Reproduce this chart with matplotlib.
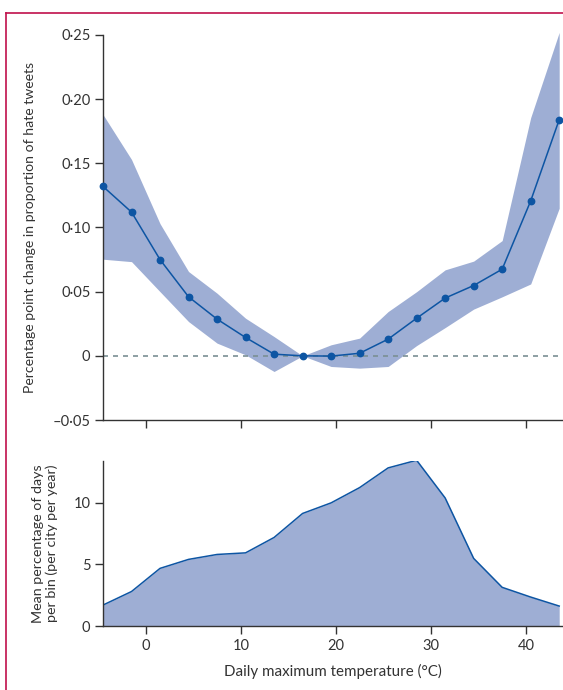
import numpy as np
import matplotlib
matplotlib.use("Agg")
import matplotlib.pyplot as plt
from matplotlib.lines import Line2D

plt.rcParams['font.family'] = ['Lato', 'DejaVu Sans']

# temperature bin centres (°C)
temp = [-4.5, -1.5, 1.5, 4.5, 7.5, 10.5, 13.5, 16.5, 19.5, 22.5,
        25.5, 28.5, 31.5, 34.5, 37.5, 40.5, 43.5]

# percentage point change in proportion of hate tweets
est = [0.132, 0.112, 0.075, 0.046, 0.0286, 0.0143, 0.0013, 0.0, -0.0002, 0.002,
       0.013, 0.0293, 0.045, 0.0548, 0.0675, 0.1207, 0.184]
upper = [0.188, 0.153, 0.103, 0.0657, 0.0488, 0.0293, 0.015, 0.0, 0.0086, 0.0138,
         0.0345, 0.050, 0.067, 0.0738, 0.0898, 0.1856, 0.252]
lower = [0.0753, 0.0734, 0.050, 0.0267, 0.0099, 0.0008, -0.0122, 0.0, -0.0083, -0.0096,
         -0.0083, 0.008, 0.022, 0.0364, 0.046, 0.056, 0.115]

# mean percentage of days per bin
days = [1.70, 2.80, 4.68, 5.41, 5.81, 5.94, 7.19, 9.14, 10.0, 11.24,
        12.84, 13.46, 10.4, 5.49, 3.14, 2.35, 1.62]

yticks_top = [-0.05, 0, 0.05, 0.10, 0.15, 0.20, 0.25]
ytick_labels_top = ['\u20130\u00b705', '0', '0\u00b705', '0\u00b710', '0\u00b715', '0\u00b720', '0\u00b725']
xticks = [0, 10, 20, 30, 40]

line_c = '#0d55a3'
fill_c = '#9eaed4'
text_c = '#333333'

W, H = 563, 690
fig = plt.figure(figsize=(W/100, H/100), dpi=100)

def frac(l, t, r, b):
    return [l/W, 1-b/H, (r-l)/W, (b-t)/H]

ax1 = fig.add_axes(frac(103, 35, 563, 420))
ax2 = fig.add_axes(frac(103, 461, 563, 626))

for ax in (ax1, ax2):
    ax.spines['top'].set_visible(False)
    ax.spines['right'].set_visible(False)
    for s in ('left', 'bottom'):
        ax.spines[s].set_color(text_c)
        ax.spines[s].set_linewidth(1.0)
    ax.tick_params(colors=text_c, labelcolor=text_c, labelsize=10.5,
                   length=5.5, width=1.0, direction='out')
    ax.set_xlim(-4.5, 43.9)
    ax.set_xticks(xticks)

# top panel
ax1.fill_between(temp, lower, upper, color=fill_c, linewidth=0, clip_on=False)
ax1.axhline(0, color='#7a8f94', linestyle=(0, (3, 3)), linewidth=1.2, zorder=1)
ax1.plot(temp, est, color=line_c, linewidth=1.1, marker='o', markersize=4.6,
         clip_on=False, zorder=3)
ax1.set_ylim(-0.05, 0.25)
ax1.set_yticks(yticks_top)
ax1.set_yticklabels(ytick_labels_top)
ax1.set_xticklabels([])
ax1.set_ylabel('Percentage point change in proportion of hate tweets',
               fontsize=10.1, color=text_c)

# bottom panel
ax2.fill_between(temp, 0, days, color=fill_c, linewidth=0)
ax2.plot(temp, days, color=line_c, linewidth=1.1)
ax2.set_ylim(0, 13.4)
ax2.set_yticks([0, 5, 10])
ax2.set_xticklabels([str(t) for t in xticks])
ax2.set_ylabel('Mean percentage of days\nper bin (per city per year)',
               fontsize=10.3, color=text_c, linespacing=1.15)
ax2.set_xlabel('Daily maximum temperature (\u00b0C)', fontsize=10.9,
               color=text_c, labelpad=8)
ax1.yaxis.set_label_coords(-0.146, 0.5)
ax2.yaxis.set_label_coords(-0.098, 0.5)

# page frame
red = '#c0114b'
fig.add_artist(Line2D([5.5/W, 1], [1-12.5/H, 1-12.5/H], color=red, linewidth=1.2))
fig.add_artist(Line2D([5.5/W, 5.5/W], [0, 1-12.5/H], color=red, linewidth=1.2))

fig.savefig('out.png', dpi=100)
